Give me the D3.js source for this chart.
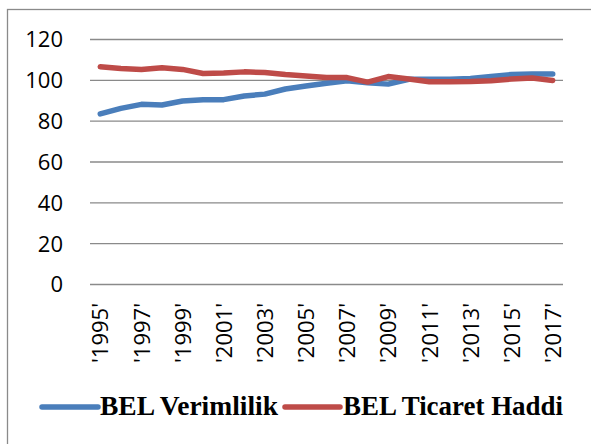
<!DOCTYPE html>
<html>
<head>
<meta charset="utf-8">
<script src="https://cdn.jsdelivr.net/npm/d3@7"></script>
<style>
  html, body { margin: 0; padding: 0; background: #fff; }
  svg { display: block; }
  .legend-text { font-family: "Times New Roman", Times, "Liberation Serif", "DejaVu Serif", serif; font-weight: 700; font-size: 27px; }
</style>
</head>
<body>
<svg id="chart" width="591" height="444"></svg>
<script>
const years = ["1995","1996","1997","1998","1999","2000","2001","2002","2003","2004","2005","2006",
               "2007","2008","2009","2010","2011","2012","2013","2014","2015","2016","2017"];
const tickYears = ["1995","1997","1999","2001","2003","2005","2007","2009","2011","2013","2015","2017"];
const yTicks = [0, 20, 40, 60, 80, 100, 120];
const verimlilik = [83.3, 86.0, 88.0, 87.7, 89.6, 90.3, 90.3, 92.1, 93.0, 95.5, 97.0, 98.3,
                    99.6, 98.6, 97.9, 100.3, 100.3, 100.3, 100.7, 101.6, 102.6, 102.9, 102.9];
const ticaret = [106.4, 105.6, 105.1, 105.9, 105.1, 103.1, 103.3, 103.9, 103.6, 102.6, 101.9, 101.1,
                 101.1, 98.9, 101.6, 100.4, 99.1, 99.1, 99.2, 99.6, 100.4, 100.9, 99.7];
const seriesNames = ["BEL Verimlilik", "BEL Ticaret Haddi"];
const seriesColors = ["#4a7ebb", "#be4b48"];

const svg = d3.select("#chart");
const plotLeft = 90, plotRight = 563, plotTop = 39, plotBottom = 284;

// outer border
svg.append("rect").attr("x", 7.5).attr("y", 9.5).attr("width", 600).attr("height", 460)
  .attr("fill", "none").attr("stroke", "#8a8a8a").attr("stroke-width", 1.3);

const x = d3.scalePoint().domain(years).range([plotLeft, plotRight]).padding(0.5);
const y = d3.scaleLinear().domain([0, 120]).range([plotBottom, plotTop]);

// y axis with gridlines
const yAxis = svg.append("g").attr("transform", `translate(${plotLeft},0)`)
  .call(d3.axisLeft(y).tickValues(yTicks).tickSize(-(plotRight - plotLeft)).tickPadding(27));
yAxis.select(".domain").remove();
yAxis.selectAll(".tick line").attr("stroke", "#8a8a8a").attr("stroke-width", 1.3);
yAxis.selectAll(".tick text")
  .attr("font-family", "'Open Sans', sans-serif").attr("font-size", 22).attr("fill", "#000")
  .attr("dy", "0.36em");

// x axis labels
const xAxis = svg.append("g").attr("transform", `translate(0,${plotBottom})`)
  .call(d3.axisBottom(x).tickValues(tickYears).tickSize(0).tickFormat(d => "'" + d + "'"));
xAxis.select(".domain").remove();
xAxis.selectAll(".tick text")
  .attr("font-family", "'Open Sans', sans-serif").attr("font-size", 22).attr("fill", "#000")
  .attr("transform", "rotate(-90)")
  .attr("x", -19).attr("y", 0).attr("dy", "0.35em")
  .style("text-anchor", "end");

// lines
const line = d3.line().x((d, i) => x(years[i])).y(d => y(d));
[verimlilik, ticaret].forEach((vals, k) => {
  svg.append("path").datum(vals)
    .attr("d", line)
    .attr("fill", "none")
    .attr("stroke", seriesColors[k])
    .attr("stroke-width", 5.5)
    .attr("stroke-linecap", "round")
    .attr("stroke-linejoin", "round");
});

// legend
const legendItems = [
  { x1: 42, x2: 98, tx: 100, w: 178 },
  { x1: 285, x2: 340, tx: 343, w: 220 }
];
const legY = 407;
legendItems.forEach((it, k) => {
  svg.append("line").attr("x1", it.x1).attr("x2", it.x2).attr("y1", legY).attr("y2", legY)
    .attr("stroke", seriesColors[k]).attr("stroke-width", 5.5).attr("stroke-linecap", "round");
  svg.append("text").attr("class", "legend-text").attr("x", it.tx).attr("y", 415)
    .style("font-family", "'Times New Roman', Times, 'Liberation Serif', 'DejaVu Serif', serif")
    .attr("fill", "#000")
    .attr("textLength", it.w).attr("lengthAdjust", "spacingAndGlyphs")
    .text(seriesNames[k]);
});
</script>
</body>
</html>
